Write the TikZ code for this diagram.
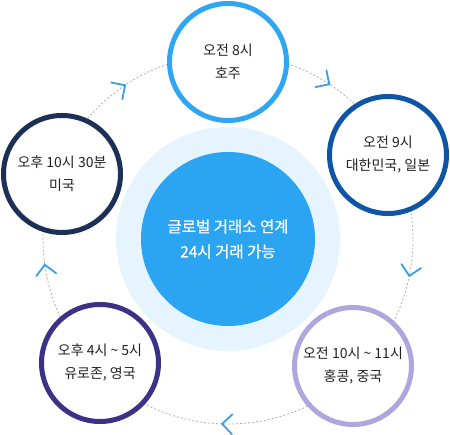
\documentclass[tikz,border=0pt]{standalone}
\usepackage{fontspec}
\setmainfont{Noto Sans CJK KR}
\newfontfamily\corefont{Noto Sans CJK KR}[FakeBold=0.7]
\definecolor{halo}{HTML}{E6F4FD}
\definecolor{core}{HTML}{2BA4F1}
\definecolor{txt}{HTML}{222222}
\definecolor{dashc}{HTML}{B0B0B0}
\definecolor{chevc}{HTML}{3A9FE6}
\definecolor{ringA}{HTML}{2EA6F2}
\definecolor{ringB}{HTML}{0F55A5}
\definecolor{ringC}{HTML}{1C2F55}
\definecolor{ringD}{HTML}{3B3186}
\definecolor{ringE}{HTML}{AEA7DD}
\begin{document}
\begin{tikzpicture}[x=1pt,y=1pt,
  ring/.style={circle, draw, line width=5pt, fill=white, minimum size=117pt, inner sep=0pt, align=center, text=txt, font=\fontsize{14}{23}\selectfont},
  chev/.style={draw=chevc, line width=1.8pt, line cap=round, line join=miter}]
\useasboundingbox (-228,-196) rectangle (222,239);
\node[circle, fill=halo, minimum size=224pt, inner sep=0pt] (halo) at (0,0) {};
\node[circle, fill=core, minimum size=174pt, inner sep=0pt, text=white, align=center, font=\corefont\fontsize{15.5}{25}\selectfont] (core) at (0,0) {글로벌 거래소 연계\\24시 거래 가능};
\draw[dashc, line width=0.8pt, dash pattern=on 2pt off 2pt] (core.center) circle (185);
\foreach \a [count=\i] in {123.8,56.8,-11.5,-91.8,188}{
  \coordinate (tip\i) at (\a:185);
  \begin{scope}[shift={(tip\i)}, rotate=\a-90]
    \draw[chev] (-10,10) -- (0,0) -- (-10,-10);
  \end{scope}
}
\node[ring, draw=ringA] (top) at (0,177) {오전 8시\\호주};
\node[ring, draw=ringB] (right) at (160,84) {오전 9시\\대한민국, 일본};
\node[ring, draw=ringC] (left) at (-166,65) {오후 10시 30분\\미국};
\node[ring, draw=ringD] (bl) at (-128,-124) {오후 4시 \textasciitilde{} 5시\\유로존, 영국};
\node[ring, draw=ringE] (br) at (125,-127) {오전 10시 \textasciitilde{} 11시\\홍콩, 중국};
\end{tikzpicture}
\end{document}
